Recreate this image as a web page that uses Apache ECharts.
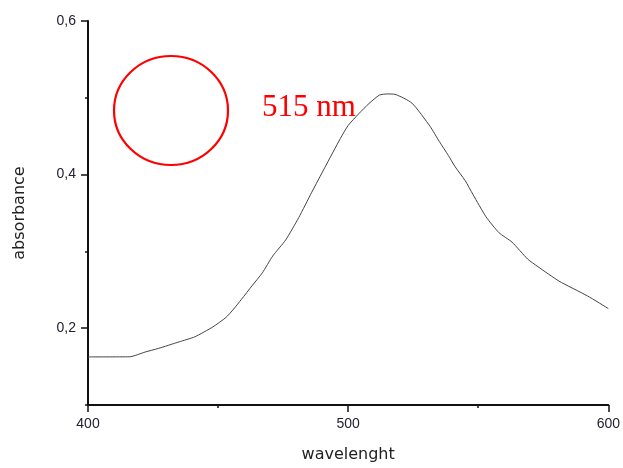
<!DOCTYPE html>
<html>
<head>
<meta charset="utf-8">
<script src="https://cdn.jsdelivr.net/npm/echarts@6/dist/echarts.min.js"></script>
<style>html,body{margin:0;padding:0;background:#fff}#c{width:623px;height:468px}</style>
</head>
<body>
<div id="c"></div>
<script>
var wavelength = [400, 416, 422, 427, 435, 441, 448, 453, 456, 459, 463, 467, 471, 476, 481, 486, 491, 497, 500, 504, 508, 512, 515, 518, 524.5, 531.5, 535, 538.5, 541, 545, 548, 553, 558, 563, 569, 573, 581, 592, 600];
var absorbance = [0.1626, 0.1628, 0.1690, 0.1736, 0.1822, 0.1887, 0.2017, 0.2139, 0.2250, 0.2377, 0.2550, 0.2720, 0.2940, 0.3150, 0.3440, 0.3770, 0.4090, 0.4470, 0.4640, 0.4790, 0.4925, 0.5035, 0.5050, 0.5045, 0.4931, 0.4627, 0.4433, 0.4250, 0.4108, 0.3920, 0.3740, 0.3450, 0.3243, 0.3120, 0.2900, 0.2800, 0.2614, 0.2420, 0.2256];
var yMajorTicks = [0.2, 0.4, 0.6];
var yMinorTicks = [0.1, 0.3, 0.5];

var data = wavelength.map(function (w, i) { return [w, absorbance[i]]; });
var chart = echarts.init(document.getElementById('c'), null, {renderer: 'canvas'});
var fmt = function (v) { return (+v).toFixed(1).replace('.', ','); };
chart.setOption({
  animation: false,
  backgroundColor: '#fff',
  grid: {left: 88, right: 13, top: 21, bottom: 61},
  xAxis: {
    type: 'value', min: 400, max: 600, interval: 100,
    name: 'wavelenght', nameLocation: 'middle', nameGap: 42,
    nameTextStyle: {fontFamily: 'DejaVu Sans', fontSize: 16, color: '#222'},
    axisLine: {show: true, lineStyle: {color: '#111', width: 2}},
    axisTick: {show: true, inside: false, length: 7, lineStyle: {color: '#111', width: 1.5}},
    minorTick: {show: true, splitNumber: 2, length: 3, lineStyle: {color: '#111', width: 1.5}},
    axisLabel: {margin: 12, fontFamily: 'Liberation Sans', fontSize: 14, color: '#223'},
    splitLine: {show: false}
  },
  yAxis: [{
    type: 'value', min: 0.1, max: 0.6,
    name: 'absorbance', nameLocation: 'middle', nameGap: 60,
    nameTextStyle: {fontFamily: 'DejaVu Sans', fontSize: 16, color: '#222'},
    axisLine: {show: true, lineStyle: {color: '#111', width: 2}},
    axisTick: {show: true, inside: false, length: 7, customValues: yMajorTicks, lineStyle: {color: '#111', width: 1.5}},
    axisLabel: {margin: 12, fontFamily: 'Liberation Sans', fontSize: 14, color: '#223', customValues: yMajorTicks, formatter: fmt},
    splitLine: {show: false}
  }, {
    type: 'value', min: 0.1, max: 0.6, position: 'left',
    axisLine: {show: false},
    axisTick: {show: true, inside: false, length: 3, customValues: yMinorTicks, lineStyle: {color: '#111', width: 1.5}},
    axisLabel: {show: false},
    splitLine: {show: false}
  }],
  series: [{
    type: 'line', data: data, showSymbol: false, smooth: 0.2,
    lineStyle: {color: '#444', width: 1}
  }],
  graphic: [{
    type: 'ellipse', shape: {cx: 171, cy: 110.5, rx: 57, ry: 54.5},
    style: {fill: 'none', stroke: '#ff0000', lineWidth: 2.2}, z: 100
  }, {
    type: 'text', x: 262, y: 108,
    style: {text: '515 nm', font: '31px "Liberation Serif"', fill: '#ff0000', textVerticalAlign: 'middle'}, z: 100
  }]
});
</script>
</body>
</html>
